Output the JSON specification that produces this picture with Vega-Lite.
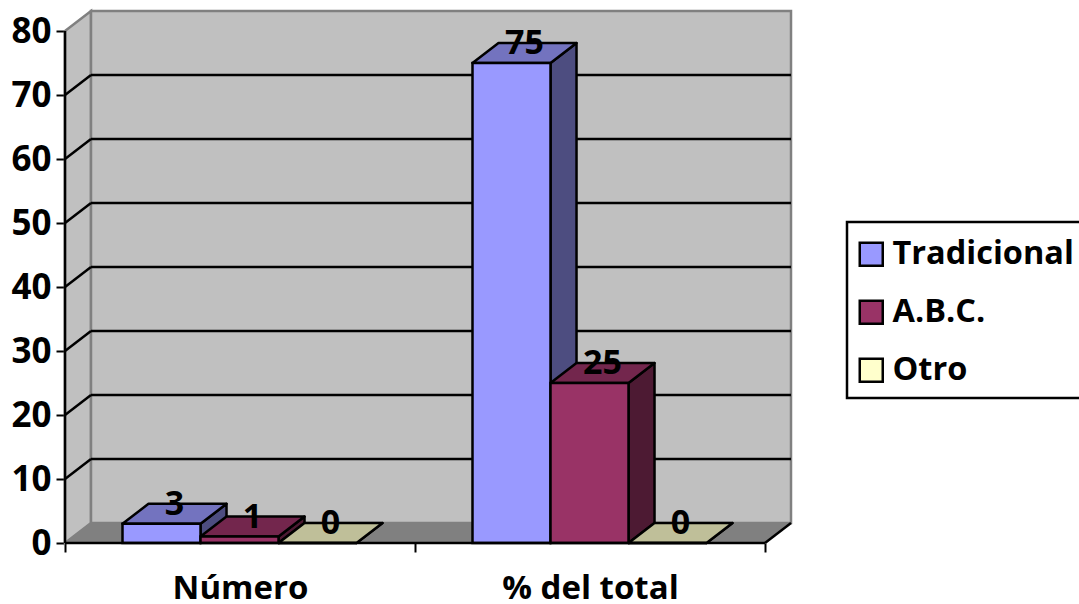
{
  "$schema": "https://vega.github.io/schema/vega-lite/v6.json",
  "autosize": "none",
  "padding": {"left": 65, "top": 11, "right": 288, "bottom": 61},
  "width": 726,
  "height": 532,
  "background": "white",
  "config": {
    "view": {"stroke": null},
    "font": "Open Sans",
    "legend": {"strokeWidth": 2.5}
  },
  "params": [
    {"name": "fondoX", "value": 0.0743},
    {"name": "fondoY", "value": 3.125},
    {"name": "anchoBarra", "value": 0.2229}
  ],
  "datasets": {
    "barras": [
      {"categoria": "Número", "serie": "Tradicional", "valor": 3},
      {"categoria": "Número", "serie": "A.B.C.", "valor": 1},
      {"categoria": "Número", "serie": "Otro", "valor": 0},
      {"categoria": "% del total", "serie": "Tradicional", "valor": 75},
      {"categoria": "% del total", "serie": "A.B.C.", "valor": 25},
      {"categoria": "% del total", "serie": "Otro", "valor": 0}
    ],
    "caras": [{"p": 0}, {"p": 1}],
    "rejilla": [{"v": 10}, {"v": 20}, {"v": 30}, {"v": 40}, {"v": 50}, {"v": 60}, {"v": 70}],
    "marco": [{"a": 0, "b": 2, "techo": 80}]
  },
  "resolve": {"scale": {"color": "independent"}},
  "encoding": {
    "x": {
      "type": "quantitative",
      "scale": {"domain": [0, 2.0743], "nice": false, "zero": false},
      "axis": {
        "title": null, "grid": false, "domain": false,
        "values": [0, 0.5, 1, 1.5, 2],
        "tickColor": "black", "tickWidth": 2, "tickSize": 9,
        "tickOpacity": {"condition": {"test": "datum.value % 1 != 0", "value": 0}, "value": 1},
        "labelExpr": "datum.value == 0.5 ? 'Número' : datum.value == 1.5 ? '% del total' : ''",
        "labelFontSize": 33, "labelFontWeight": "bold", "labelColor": "black",
        "labelPadding": 20, "labelOverlap": false, "labelFlush": false
      }
    },
    "y": {
      "type": "quantitative",
      "scale": {"domain": [0, 83.125], "nice": false, "zero": false},
      "axis": {
        "title": null, "grid": false, "domain": false,
        "values": [0, 10, 20, 30, 40, 50, 60, 70, 80],
        "tickColor": "black", "tickWidth": 2, "tickSize": 9,
        "labelFontSize": 35, "labelFontWeight": "bold", "labelColor": "black",
        "labelPadding": 5
      }
    }
  },
  "layer": [
    {
      "name": "pared lateral",
      "data": {"name": "caras"},
      "transform": [
        {"calculate": "datum.p * fondoX", "as": "px"},
        {"calculate": "80 + datum.p * fondoY", "as": "arriba"},
        {"calculate": "datum.p * fondoY", "as": "abajo"}
      ],
      "mark": {"type": "area", "color": "#c0c0c0", "stroke": "#808080", "strokeWidth": 2.5},
      "encoding": {
        "x": {"field": "px"},
        "y": {"field": "arriba"},
        "y2": {"field": "abajo"}
      }
    },
    {
      "name": "pared de fondo",
      "data": {"name": "marco"},
      "transform": [
        {"calculate": "datum.a + fondoX", "as": "x1"},
        {"calculate": "datum.b + fondoX", "as": "x2"},
        {"calculate": "fondoY", "as": "y1"},
        {"calculate": "datum.techo + fondoY", "as": "y2"}
      ],
      "mark": {"type": "rect", "color": "#c0c0c0", "stroke": "#808080", "strokeWidth": 2.5},
      "encoding": {
        "x": {"field": "x1"},
        "x2": {"field": "x2"},
        "y": {"field": "y1"},
        "y2": {"field": "y2"}
      }
    },
    {
      "name": "suelo",
      "data": {"name": "caras"},
      "transform": [
        {"calculate": "datum.p * fondoX", "as": "x1"},
        {"calculate": "2 + datum.p * fondoX", "as": "x2"},
        {"calculate": "datum.p * fondoY", "as": "alto"}
      ],
      "mark": {"type": "area", "orient": "horizontal", "color": "#808080", "stroke": "#808080", "strokeWidth": 1},
      "encoding": {
        "y": {"field": "alto"},
        "x": {"field": "x1"},
        "x2": {"field": "x2"}
      }
    },
    {
      "name": "rejilla del fondo",
      "data": {"name": "rejilla"},
      "transform": [
        {"calculate": "fondoX", "as": "x1"},
        {"calculate": "2 + fondoX", "as": "x2"},
        {"calculate": "datum.v + fondoY", "as": "alto"}
      ],
      "mark": {"type": "rule", "color": "black", "strokeWidth": 2.5},
      "encoding": {
        "x": {"field": "x1"},
        "x2": {"field": "x2"},
        "y": {"field": "alto"}
      }
    },
    {
      "name": "rejilla lateral",
      "data": {"name": "rejilla"},
      "transform": [
        {"calculate": "0", "as": "x1"},
        {"calculate": "fondoX", "as": "x2"},
        {"calculate": "datum.v + fondoY", "as": "alto"}
      ],
      "mark": {"type": "rule", "color": "black", "strokeWidth": 2.5},
      "encoding": {
        "x": {"field": "x1"},
        "x2": {"field": "x2"},
        "y": {"field": "v"},
        "y2": {"field": "alto"}
      }
    },
    {
      "name": "caras laterales de las barras",
      "data": {"name": "barras"},
      "transform": [
        {"calculate": "indexof(['Número', '% del total'], datum.categoria) + (57.5 + 78 * indexof(['Tradicional', 'A.B.C.', 'Otro'], datum.serie)) / 350", "as": "x0"},
        {"calculate": "[0, 1]", "as": "p"},
        {"flatten": ["p"]},
        {"calculate": "datum.x0 + anchoBarra + datum.p * fondoX", "as": "px"},
        {"calculate": "datum.valor + datum.p * fondoY", "as": "arriba"},
        {"calculate": "datum.p * fondoY", "as": "abajo"}
      ],
      "mark": {"type": "area", "stroke": "black", "strokeWidth": 2.5, "strokeJoin": "round"},
      "encoding": {
        "x": {"field": "px"},
        "y": {"field": "arriba"},
        "y2": {"field": "abajo"},
        "detail": {"field": "categoria"},
        "color": {
          "field": "serie", "type": "nominal", "legend": null,
          "scale": {"domain": ["Tradicional", "A.B.C.", "Otro"], "range": ["#4d4d80", "#4d1a33", "#808066"]}
        }
      }
    },
    {
      "name": "caras superiores de las barras",
      "data": {"name": "barras"},
      "transform": [
        {"calculate": "indexof(['Número', '% del total'], datum.categoria) + (57.5 + 78 * indexof(['Tradicional', 'A.B.C.', 'Otro'], datum.serie)) / 350", "as": "x0"},
        {"calculate": "[0, 1]", "as": "p"},
        {"flatten": ["p"]},
        {"calculate": "datum.x0 + datum.p * fondoX", "as": "x1"},
        {"calculate": "datum.x0 + anchoBarra + datum.p * fondoX", "as": "x2"},
        {"calculate": "datum.valor + datum.p * fondoY", "as": "alto"}
      ],
      "mark": {"type": "area", "orient": "horizontal", "stroke": "black", "strokeWidth": 2.5, "strokeJoin": "round"},
      "encoding": {
        "y": {"field": "alto"},
        "x": {"field": "x1"},
        "x2": {"field": "x2"},
        "detail": {"field": "categoria"},
        "color": {
          "field": "serie", "type": "nominal", "legend": null,
          "scale": {"domain": ["Tradicional", "A.B.C.", "Otro"], "range": ["#7373bf", "#73264d", "#bfbf99"]}
        }
      }
    },
    {
      "name": "caras frontales de las barras",
      "data": {"name": "barras"},
      "transform": [
        {"calculate": "indexof(['Número', '% del total'], datum.categoria) + (57.5 + 78 * indexof(['Tradicional', 'A.B.C.', 'Otro'], datum.serie)) / 350", "as": "x0"},
        {"calculate": "datum.x0 + anchoBarra", "as": "x1"},
        {"calculate": "0", "as": "base"}
      ],
      "mark": {"type": "rect", "stroke": "black", "strokeWidth": 2.5},
      "encoding": {
        "x": {"field": "x0"},
        "x2": {"field": "x1"},
        "y": {"field": "valor"},
        "y2": {"field": "base"},
        "color": {
          "field": "serie", "type": "nominal",
          "scale": {"domain": ["Tradicional", "A.B.C.", "Otro"], "range": ["#9999ff", "#993366", "#ffffcc"]},
          "legend": {
            "orient": "none", "legendX": 782, "legendY": 211,
            "title": " ", "titleFontSize": 1, "titlePadding": 4,
            "fillColor": "white", "strokeColor": "black", "padding": 11,
            "symbolType": "square", "symbolSize": 529, "symbolOffset": -3,
            "symbolStrokeColor": "black", "symbolStrokeWidth": 2.5, "symbolOpacity": 1,
            "labelFontSize": 32.5, "labelFontWeight": "bold", "labelColor": "black",
            "labelLimit": 400, "labelOffset": 5, "rowPadding": 24
          }
        }
      }
    },
    {
      "name": "eje frontal",
      "data": {"name": "marco"},
      "mark": {"type": "rule", "color": "black", "strokeWidth": 2.5},
      "transform": [{"calculate": "0", "as": "cero"}],
      "encoding": {
        "x": {"field": "a"},
        "x2": {"field": "b"},
        "y": {"field": "cero"}
      }
    },
    {
      "name": "eje vertical",
      "data": {"name": "marco"},
      "mark": {"type": "rule", "color": "black", "strokeWidth": 2.5},
      "transform": [{"calculate": "0", "as": "cero"}],
      "encoding": {
        "x": {"field": "a"},
        "y": {"field": "cero"},
        "y2": {"field": "techo"}
      }
    },
    {
      "name": "borde derecho del suelo",
      "data": {"name": "marco"},
      "mark": {"type": "rule", "color": "black", "strokeWidth": 2.5},
      "transform": [
        {"calculate": "datum.b + fondoX", "as": "x2"},
        {"calculate": "fondoY", "as": "alto"},
        {"calculate": "0", "as": "cero"}
      ],
      "encoding": {
        "x": {"field": "b"},
        "x2": {"field": "x2"},
        "y": {"field": "cero"},
        "y2": {"field": "alto"}
      }
    },
    {
      "name": "valores",
      "data": {"name": "barras"},
      "transform": [
        {"calculate": "indexof(['Número', '% del total'], datum.categoria) + (57.5 + 78 * indexof(['Tradicional', 'A.B.C.', 'Otro'], datum.serie)) / 350 + anchoBarra / 2 + fondoX / 2", "as": "cx"},
        {"calculate": "datum.valor + fondoY", "as": "alto"}
      ],
      "mark": {"type": "text", "fontSize": 34, "fontWeight": "bold", "color": "black", "baseline": "middle", "align": "center", "dy": 1},
      "encoding": {
        "x": {"field": "cx"},
        "y": {"field": "alto"},
        "text": {"field": "valor", "type": "quantitative"}
      }
    }
  ]
}
